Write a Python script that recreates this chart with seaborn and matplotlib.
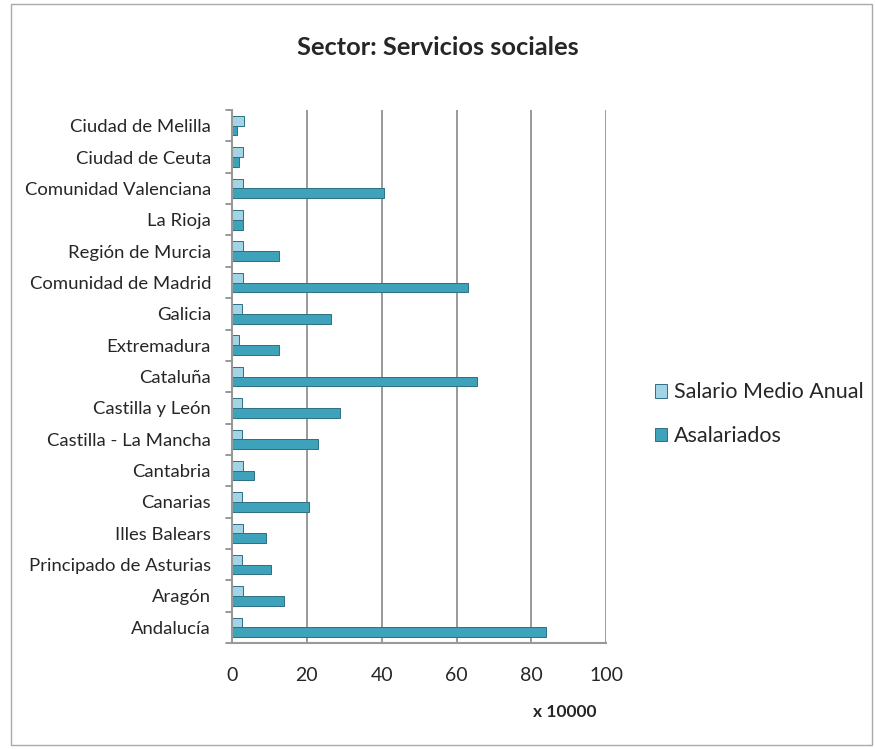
import pandas as pd
import matplotlib.pyplot as plt
import seaborn as sns
from matplotlib.patches import Rectangle

# datos (x 10000)
regiones = ['Ciudad de Melilla', 'Ciudad de Ceuta', 'Comunidad Valenciana', 'La Rioja',
            'Región de Murcia', 'Comunidad de Madrid', 'Galicia', 'Extremadura', 'Cataluña',
            'Castilla y León', 'Castilla - La Mancha', 'Cantabria', 'Canarias', 'Illes Balears',
            'Principado de Asturias', 'Aragón', 'Andalucía']
salario = [3.2, 3.1, 2.9, 3.0, 3.1, 2.9, 2.8, 2.0, 3.1, 2.8, 2.7, 3.0, 2.8, 3.1, 2.7, 2.9, 2.7]
asalariados = [1.5, 2.0, 40.5, 3.0, 12.5, 63.0, 26.5, 12.5, 65.5, 29.0, 23.0, 6.0, 20.5, 9.0, 10.5, 14.0, 84.0]

df = pd.DataFrame({'Región': regiones * 2,
                   'valor': salario + asalariados,
                   'serie': ['Salario Medio Anual'] * len(regiones) + ['Asalariados'] * len(regiones)})

sns.set_style('white')
plt.rcParams['font.family'] = ['Lato', 'DejaVu Sans']

fig = plt.figure(figsize=(8.75, 7.49), dpi=100)
ax = fig.add_axes([0.265, 0.1415, 0.428, 0.7115])

colores = {'Salario Medio Anual': '#a3d4e6', 'Asalariados': '#3fa2bb'}
sns.barplot(data=df, y='Región', x='valor', hue='serie', order=regiones,
            hue_order=['Salario Medio Anual', 'Asalariados'], palette=colores,
            saturation=1, orient='h', width=0.62, edgecolor='#2c7083', linewidth=0.7, ax=ax)

ax.set_xlim(0, 100)
ax.set_ylim(len(regiones) - 0.5, -0.5)
ax.set_xticks([0, 20, 40, 60, 80, 100])
ax.tick_params(axis='x', labelsize=14, length=5, color='#888888', pad=12)
ax.tick_params(axis='y', labelsize=13.3, length=0, pad=15)
ax.set_xlabel('')
ax.set_ylabel('')
ax.grid(axis='x', color='#888888', linewidth=1.2)
ax.set_axisbelow(True)
for s in ['top', 'right']:
    ax.spines[s].set_visible(False)
for s in ['left', 'bottom']:
    ax.spines[s].set_color('#999999')
    ax.spines[s].set_linewidth(1.5)

# separadores de categorias en el eje y
for i in range(len(regiones) + 1):
    ax.plot([-1.5, 0], [i - 0.5, i - 0.5], color='#888888', lw=1.2, clip_on=False)

ax.legend(loc='center left', bbox_to_anchor=(0.748, 0.447), bbox_transform=fig.transFigure,
          frameon=False, fontsize=15.5, handlelength=0.6, handleheight=0.6,
          handletextpad=0.3, labelspacing=1.1, borderaxespad=0, borderpad=0)

fig.text(0.5, 0.936, 'Sector: Servicios sociales', ha='center', va='center',
         fontsize=18.3, fontweight='bold')
fig.text(0.645, 0.049, 'x 10000', ha='center', va='center', fontsize=12.5, fontweight='bold')

fig.patches.append(Rectangle((0.012, 0.005), 0.985, 0.99, transform=fig.transFigure,
                             fill=False, edgecolor='#aaaaaa', linewidth=1))

fig.savefig('out.png', dpi=100)
